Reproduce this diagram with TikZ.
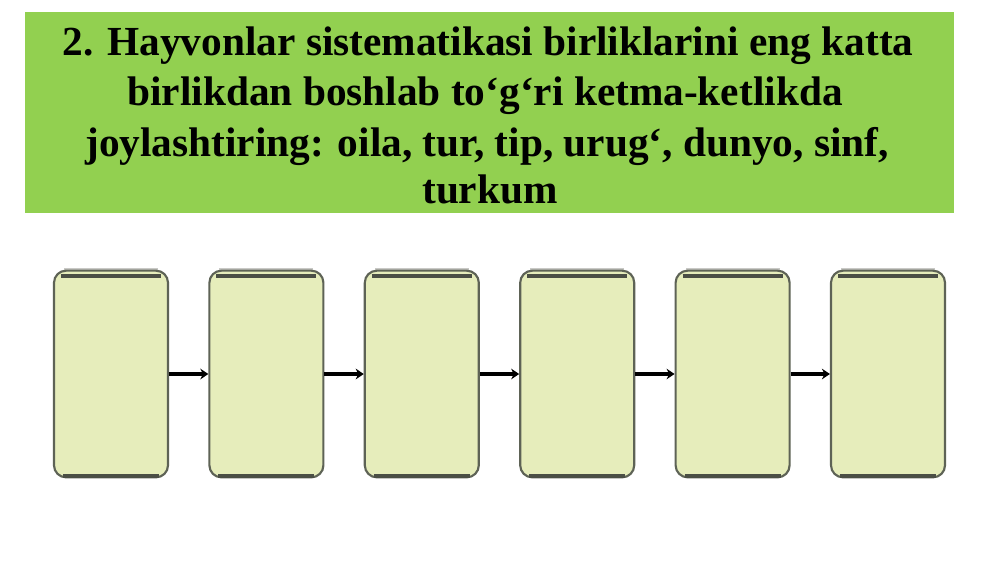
\documentclass[tikz,border=0pt]{standalone}
\usepackage{fontspec}
\setmainfont{Liberation Serif}
\usetikzlibrary{arrows.meta}
\definecolor{titlegreen}{HTML}{92D050}
\definecolor{boxfill}{HTML}{E6EDBB}
\definecolor{boxedge}{HTML}{5E6356}
\definecolor{bandgray}{HTML}{C9C9C6}
\tikzset{
  stagebox/.style={draw=boxedge, line width=1.6pt, fill=boxfill, rounded corners=9pt,
    minimum width=85.5pt, minimum height=155pt, inner sep=0pt},
  linkarrow/.style={draw=black, line width=3pt, -{Stealth[length=6pt,width=8pt]}},
  titletext/.style={font=\bfseries\fontsize{31}{37}\selectfont, anchor=base}
}
\begin{document}
\begin{tikzpicture}[x=0.75pt,y=-0.75pt]
\useasboundingbox (0,0) rectangle (1000,562);
\fill[white] (0,0) rectangle (1000,562);
% title banner
\fill[titlegreen] (25,12) rectangle (954,213);
\node[titletext] (t1) at (488,55) {2. Hayvonlar sistematikasi birliklarini eng katta};
\node[titletext] (t2) at (485,105) {birlikdan boshlab to‘g‘ri ketma-ketlikda};
\node[titletext] (t3) at (487,156) {joylashtiring: oila, tur, tip, urug‘, dunyo, sinf,};
\node[titletext] (t4) at (490,203) {turkum};
% boxes
\foreach \i in {0,...,5}{
  \pgfmathsetmacro{\cx}{111+155.4*\i}
  \fill[bandgray] (\cx-47,268) rectangle (\cx+47,274);
  \node[stagebox] (b\i) at (\cx,374) {};
  \draw[boxedge!80!black, line width=3pt] (\cx-50,276) -- (\cx+50,276);
  \draw[boxedge!80!black, line width=3pt] (\cx-48,476) -- (\cx+48,476);
}
\draw[linkarrow] (b0.east) -- (b1.west);
\draw[linkarrow] (b1.east) -- (b2.west);
\draw[linkarrow] (b2.east) -- (b3.west);
\draw[linkarrow] (b3.east) -- (b4.west);
\draw[linkarrow] (b4.east) -- (b5.west);
\end{tikzpicture}
\end{document}
